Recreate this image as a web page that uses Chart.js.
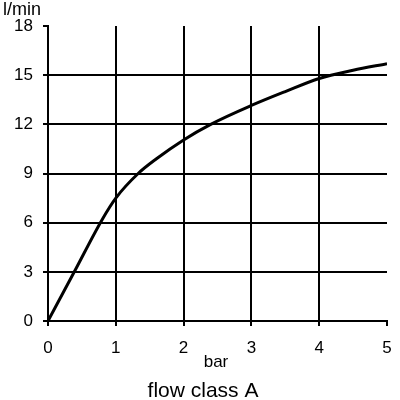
<!DOCTYPE html>
<html>
<head>
<meta charset="utf-8">
<script src="https://cdn.jsdelivr.net/npm/chart.js@4"></script>
<style>
  html, body { margin: 0; padding: 0; background: #fff; }
  #wrap { width: 400px; height: 400px; }
</style>
</head>
<body>
<div id="wrap"><canvas id="myChart" width="400" height="400"></canvas></div>
<script>
// flow curve, pressure (bar) vs flow (l/min)
const pressure = [0, 0.4, 0.8, 1.0, 1.33, 1.6, 2, 2.4, 3, 3.5, 4, 4.5, 5];
const flow = [0, 3.1, 6.2, 7.5, 9.0, 9.9, 11.05, 12, 13.15, 14.0, 14.8, 15.3, 15.7];
const yUnit = 'l/min';
const xUnit = 'bar';
const caption = 'flow class A';

const points = pressure.map(function(p, i) {
    return { x: p, y: flow[i] };
});

const FONT = '"Liberation Sans", Arial, sans-serif';

// axis titles and caption
const labelsPlugin = {
    id: 'labelsPlugin',
    afterDraw: function(chart) {
        const ctx = chart.ctx;
        ctx.save();
        ctx.fillStyle = '#000';
        ctx.textBaseline = 'alphabetic';
        ctx.font = '18px ' + FONT;
        ctx.textAlign = 'left';
        ctx.fillText(yUnit, 3, 15);
        ctx.textAlign = 'center';
        ctx.font = '17px ' + FONT;
        ctx.fillText(xUnit, 216, 367);
        ctx.font = '21px ' + FONT;
        ctx.fillText(caption, 203, 397);
        ctx.restore();
    }
};

const innerLine = function(lo, hi) {
    return function(ctx) {
        const v = ctx.tick ? ctx.tick.value : null;
        return (v > lo && v < hi) ? '#000' : 'rgba(0,0,0,0)';
    };
};

const config = {
    type: 'scatter',
    data: {
        datasets: [{
            data: points,
            showLine: true,
            borderColor: '#000',
            borderWidth: 3,
            pointRadius: 0,
            cubicInterpolationMode: 'monotone'
        }]
    },
    options: {
        responsive: false,
        animation: false,
        layout: {
            padding: { left: 0, top: 26, right: 13, bottom: 0 }
        },
        plugins: {
            legend: { display: false },
            tooltip: { enabled: false }
        },
        scales: {
            x: {
                type: 'linear',
                min: 0,
                max: 5,
                afterFit: function(scale) {
                    scale.height = 79;
                    scale.paddingLeft = 0;
                    scale.paddingRight = 0;
                },
                ticks: {
                    stepSize: 1,
                    color: '#000',
                    padding: 12,
                    maxRotation: 0,
                    font: { size: 17, family: FONT }
                },
                grid: {
                    color: innerLine(0, 5),
                    lineWidth: 2,
                    drawTicks: true,
                    tickLength: 5,
                    tickColor: '#000',
                    tickWidth: 2
                },
                border: { display: true, color: '#000', width: 2 }
            },
            y: {
                min: 0,
                max: 18,
                afterFit: function(scale) { scale.width = 48; },
                ticks: {
                    stepSize: 3,
                    color: '#000',
                    padding: 10,
                    font: { size: 17, family: FONT }
                },
                grid: {
                    color: innerLine(0, 18),
                    lineWidth: 2,
                    drawTicks: true,
                    tickLength: 5,
                    tickColor: '#000',
                    tickWidth: 2
                },
                border: { display: true, color: '#000', width: 2 }
            }
        }
    },
    plugins: [labelsPlugin]
};

var myChart = new Chart(document.getElementById('myChart'), config);
</script>
</body>
</html>
